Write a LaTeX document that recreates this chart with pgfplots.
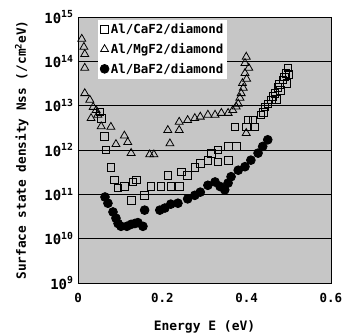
\documentclass[border=0pt]{standalone}
\usepackage{pgfplots}
\pgfplotsset{compat=1.18}
\usepackage{fontspec}
\setmainfont{DejaVu Sans Mono}
\begin{document}
\begin{tikzpicture}
\path[use as bounding box] (-78bp,-53bp) rectangle (265bp,283bp);
\begin{axis}[
  at={(0,0)}, anchor=south west,
  scale only axis, width=253bp, height=266bp,
  xmin=0, xmax=0.6, ymode=log, ymin=1e9, ymax=1e15,
  axis background/.style={fill=gray!45},
  axis line style={black, line width=0.6pt},
  xtick={0,0.2,0.4,0.6}, xticklabels={0,0.2,0.4,0.6},
  ytick={1e9,1e10,1e11,1e12,1e13,1e14,1e15},
  yticklabels={10\textsuperscript{9},10\textsuperscript{10},10\textsuperscript{11},10\textsuperscript{12},10\textsuperscript{13},10\textsuperscript{14},10\textsuperscript{15}},
  minor ytick={},
  major tick length=0pt, minor tick length=0pt,
  ymajorgrids, grid style={black, line width=0.5pt},
  xticklabel style={font=\fontsize{12.5}{13}\selectfont\bfseries, yshift=-7bp},
  yticklabel style={font=\fontsize{14}{14}\selectfont\bfseries, xshift=-1bp},
  xlabel={Energy E (eV)},
  ylabel={Surface state density Nss (/cm\textsuperscript{2}eV)},
  xlabel style={font=\fontsize{13}{13}\selectfont\bfseries, at={(axis description cs:0.5,-0.165)}, anchor=center},
  ylabel style={font=\fontsize{12.8}{12.8}\selectfont\bfseries, at={(axis description cs:-0.222,0.5)}, anchor=center},
  legend style={at={(0.079,0.99)}, anchor=north west, draw=none, fill=white,
    font=\fontsize{12.5}{14}\selectfont\bfseries, inner sep=2bp, row sep=4bp,
    legend cell align=left},
  legend image code/.code={\draw[#1] plot coordinates {(0.5mm,0cm)};},
  every axis plot/.append style={only marks, black, line width=0.8pt},
]
\addplot[mark=square, mark size=3.8bp] coordinates {
(0.052,7.2e12)(0.055,5.2e12)(0.062,2.0e12)(0.066,1.0e12)(0.078,4.0e11)
(0.087,2.1e11)(0.095,1.4e11)(0.110,1.5e11)(0.126,7.4e10)(0.130,1.9e11)
(0.138,2.1e11)(0.158,9.5e10)(0.173,1.5e11)(0.197,1.5e11)(0.213,2.7e11)
(0.220,1.5e11)(0.240,1.5e11)(0.245,3.2e11)(0.260,2.7e11)(0.277,4.0e11)
(0.290,5.0e11)(0.308,5.9e11)(0.316,8.5e11)(0.332,1.0e12)(0.332,5.4e11)
(0.356,5.9e11)(0.356,1.2e12)(0.375,1.2e12)(0.372,3.3e12)(0.399,3.3e12)
(0.403,4.8e12)(0.415,4.8e12)(0.420,3.3e12)(0.434,6.2e12)(0.443,9.3e12)
(0.458,1.35e13)(0.467,1.9e13)(0.474,2.6e13)(0.486,3.8e13)(0.493,5.4e13)
(0.498,7.1e13)(0.450,1.1e13)(0.462,1.6e13)(0.478,3.0e13)(0.490,4.5e13)
(0.480,2.2e13)(0.495,3.2e13)(0.500,5.0e13)(0.470,1.4e13)(0.440,7.0e12)
};
\addlegendentry{Al/CaF2/diamond}
\addplot[mark=triangle, mark size=4.6bp] coordinates {
(0.009,3.2e14)(0.014,2.1e14)(0.016,1.45e14)(0.016,7.1e13)(0.016,1.9e13)
(0.028,1.35e13)(0.031,5.2e12)(0.036,9.3e12)(0.043,7.9e12)(0.047,6.2e12)
(0.055,3.4e12)(0.078,3.3e12)(0.090,1.35e12)(0.110,2.1e12)(0.118,1.5e12)
(0.126,8.5e11)(0.170,7.9e11)(0.180,7.9e11)(0.213,2.8e12)(0.218,1.4e12)
(0.240,2.8e12)(0.240,4.3e12)(0.260,4.7e12)(0.277,5.2e12)(0.290,5.6e12)
(0.308,6.2e12)(0.325,6.2e12)(0.340,6.8e12)(0.356,6.8e12)(0.367,7.9e12)
(0.380,1.1e13)(0.387,1.9e13)(0.390,3.2e13)(0.396,5.4e13)(0.396,9.1e13)
(0.399,1.26e14)(0.405,7.1e13)(0.399,2.4e12)(0.384,1.5e13)(0.392,2.5e13)
(0.400,4.0e13)(0.375,9.5e12)
};
\addlegendentry{Al/MgF2/diamond}
\addplot[mark=*, mark size=4.4bp] coordinates {
(0.064,8.7e10)(0.071,6.3e10)(0.083,4.0e10)(0.090,2.9e10)(0.095,2.2e10)
(0.102,1.9e10)(0.116,1.9e10)(0.126,2.1e10)(0.135,2.2e10)(0.142,2.3e10)
(0.154,1.9e10)(0.158,4.4e10)(0.194,4.4e10)(0.206,4.9e10)(0.220,6.0e10)
(0.237,6.3e10)(0.260,7.9e10)(0.277,9.5e10)(0.290,1.12e11)(0.308,1.6e11)
(0.325,1.9e11)(0.337,1.5e11)(0.348,1.26e11)(0.356,1.8e11)(0.363,2.5e11)
(0.380,3.5e11)(0.396,4.2e11)(0.410,5.9e11)(0.427,8.5e11)(0.438,1.2e12)
(0.450,1.7e12)
};
\addlegendentry{Al/BaF2/diamond}
\end{axis}
\end{tikzpicture}
\end{document}
